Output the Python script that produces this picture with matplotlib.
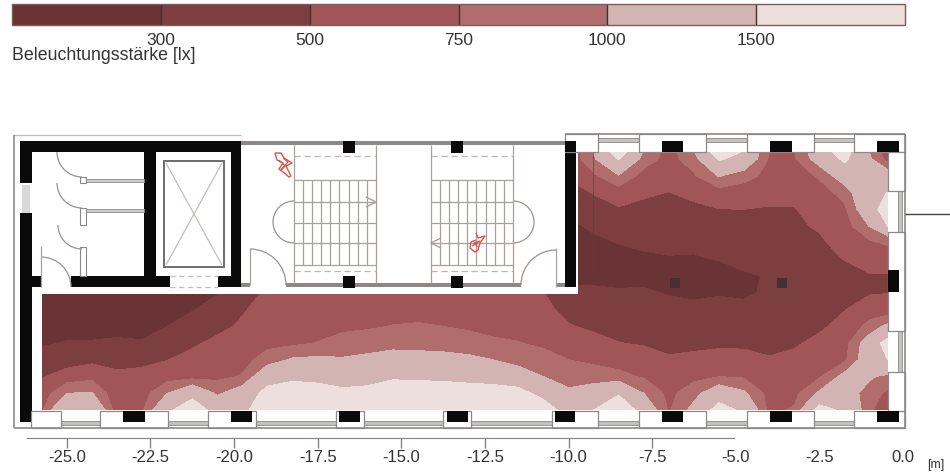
# floor plan with illuminance bands (lux)

import numpy as np
import matplotlib
matplotlib.use('Agg')
import matplotlib.pyplot as plt
from matplotlib.colors import ListedColormap, BoundaryNorm
from matplotlib.cm import ScalarMappable
from matplotlib.patches import Rectangle, Arc

plt.rcParams['font.family'] = ['Liberation Sans', 'DejaVu Sans']

levels = [0, 300, 500, 750, 1000, 1500, 2500]
level_ticks = [300, 500, 750, 1000, 1500]
band_colors = ['#6a3335', '#7c3e3f', '#a15556', '#b16c6c', '#d2b4b3', '#ecdfdc']
axis_ticks = [-25.0, -22.5, -20.0, -17.5, -15.0, -12.5, -10.0, -7.5, -5.0, -2.5, 0.0]

# measuring points in metres
x_m = np.arange(-25.75, 0, 0.75)
y_m = np.arange(0, 8.5, 0.5)

# lux per column of x_m, from the window wall (y=0) upwards
# columns left of -10 m only reach to y=3.5, the core is above them
lux_low = [
    [700, 600, 480, 370, 280, 220, 180, 150],
    [1500, 1000, 600, 400, 310, 240, 190, 160],
    [1450, 1020, 670, 445, 310, 250, 190, 160],
    [600, 560, 540, 440, 320, 260, 200, 170],
    [700, 640, 560, 450, 310, 260, 210, 170],
    [1400, 1000, 640, 495, 400, 300, 260, 200],
    [1800, 1350, 650, 560, 470, 380, 290, 230],
    [1300, 950, 690, 620, 545, 450, 368, 290],
    [1350, 1200, 770, 660, 590, 530, 480, 420],
    [1900, 1650, 1300, 860, 680, 620, 580, 530],
    [1950, 1750, 1400, 1040, 700, 640, 600, 550],
    [1950, 1700, 1370, 1060, 760, 650, 600, 550],
    [1950, 1600, 1300, 1030, 835, 700, 620, 560],
    [1950, 1650, 1320, 1070, 880, 720, 630, 560],
    [1950, 1750, 1440, 1130, 910, 760, 650, 570],
    [1950, 1750, 1420, 1120, 900, 780, 650, 570],
    [1950, 1720, 1410, 1100, 890, 750, 640, 560],
    [1950, 1700, 1370, 1060, 870, 710, 620, 550],
    [1950, 1700, 1320, 1000, 790, 680, 600, 540],
    [1950, 1650, 1230, 860, 760, 670, 600, 530],
    [1750, 1350, 1000, 860, 700, 620, 570, 505],
]
lux_full = [
    [1300, 1050, 900, 750, 635, 520, 420, 330, 270, 250, 260, 260, 330, 420, 520, 550, 550],
    [1500, 1150, 890, 690, 590, 450, 390, 330, 260, 240, 260, 330, 420, 510, 700, 950, 1100],
    [1900, 1450, 825, 640, 505, 440, 390, 315, 260, 240, 305, 380, 480, 610, 975, 1520, 2400],
    [1300, 1000, 720, 600, 480, 430, 370, 320, 260, 280, 320, 400, 450, 530, 650, 880, 1100],
    [720, 680, 640, 530, 430, 390, 350, 290, 240, 290, 330, 400, 460, 495, 590, 650, 680],
    [1100, 900, 680, 540, 460, 400, 340, 270, 240, 285, 330, 390, 450, 560, 720, 880, 1100],
    [1700, 1250, 750, 560, 470, 410, 340, 290, 230, 305, 360, 410, 495, 640, 1020, 1550, 2400],
    [1400, 1050, 720, 590, 450, 380, 340, 275, 280, 345, 385, 430, 500, 620, 840, 1300, 1700],
    [680, 660, 620, 520, 430, 370, 340, 325, 310, 370, 410, 450, 480, 590, 680, 720, 740],
    [780, 680, 620, 560, 470, 410, 370, 350, 370, 400, 430, 470, 490, 560, 640, 720, 740],
    [1700, 1050, 720, 630, 560, 460, 410, 380, 390, 430, 470, 520, 590, 650, 780, 1150, 1450],
    [1400, 1200, 1100, 700, 650, 580, 490, 430, 400, 505, 570, 630, 700, 830, 1200, 1580, 1900],
    [800, 850, 1050, 1250, 1200, 820, 640, 480, 480, 600, 700, 1010, 1300, 1400, 1250, 1050, 900],
    [450, 650, 850, 1600, 1900, 1200, 620, 500, 480, 580, 830, 1700, 1900, 1550, 1050, 500, 350],
]

columns = [c + [np.nan] * (len(y_m) - len(c)) for c in lux_low] + lux_full
lux = np.ma.masked_invalid(np.array(columns, dtype=float).T)

W, H = 950, 476
PX_PER_M = 33.45
X0, Y0 = 903, 410   # where x=0, y=0 sit in the image

cmap = ListedColormap(band_colors)
norm = BoundaryNorm(levels, cmap.N)

fig = plt.figure(figsize=(W / 100, H / 100), dpi=100)

# main axes in metres, over the whole figure
ax = fig.add_axes([0, 0, 1, 1])
ax.set_xlim(-X0 / PX_PER_M, (W - X0) / PX_PER_M)
ax.set_ylim((Y0 - H) / PX_PER_M, Y0 / PX_PER_M)
ax.patch.set_visible(False)

cs = ax.contourf(x_m, y_m, lux, levels=levels, cmap=cmap, norm=norm)
room = Rectangle((-25.75, 0), 25.3, 7.72, transform=ax.transData, fill=False, lw=0)
ax.add_patch(room)
cs.set_clip_path(room)

for s in ['top', 'left', 'right']:
    ax.spines[s].set_visible(False)
ax.spines['bottom'].set_position(('data', (Y0 - 438) / PX_PER_M))
ax.spines['bottom'].set_bounds(-26.2, -5.05)
ax.spines['bottom'].set_color('#8a8080')
ax.set_yticks([])
ax.set_xticks(axis_ticks)
ax.set_xticklabels(['%.1f' % t for t in axis_ticks])
ax.tick_params(axis='x', length=7, width=1, color='#8a8080', pad=1.5, labelsize=12, labelcolor='#333333')
for tick, t in zip(ax.xaxis.get_major_ticks(), axis_ticks):
    if t > -7:
        tick.tick1line.set_visible(False)

# legend
cax = fig.add_axes([12 / W, 1 - 25 / H, 893 / W, 21 / H])
cb = fig.colorbar(ScalarMappable(norm=norm, cmap=cmap), cax=cax, orientation='horizontal',
                  ticks=level_ticks, spacing='uniform', drawedges=True)
cb.ax.tick_params(length=0, pad=6, labelsize=12.5, labelcolor='#333333')
cb.ax.minorticks_off()
cb.dividers.set_color('#4a2c2c')
cb.dividers.set_linewidth(1)
cb.outline.set_edgecolor('#7a5c5c')
cb.outline.set_linewidth(1)
fig.text(12 / W, 1 - 56 / H, 'Beleuchtungsstärke [lx]', fontsize=12.8, color='#333333', va='center')
fig.text(936 / W, 1 - 465 / H, '[m]', fontsize=9, color='#333333', va='center', ha='center')

# the plan itself is drawn on top, in image pixels
pl = fig.add_axes([0, 0, 1, 1], zorder=5)
pl.set_xlim(0, W)
pl.set_ylim(H, 0)
pl.axis('off')
pl.patch.set_visible(False)

GRAY = '#8c8888'
LINE = '#a8a09c'
BLACK = '#0a0a0a'


def box(x0, y0, x1, y1, fc=BLACK, ec='none', lw=0):
    pl.add_patch(Rectangle((x0, y0), x1 - x0, y1 - y0, facecolor=fc, edgecolor=ec, linewidth=lw))


def line(xs, ys, c=LINE, lw=0.9, **kw):
    pl.plot(xs, ys, color=c, lw=lw, solid_capstyle='butt', **kw)


def door(cx, cy, r, a0, a1):
    pl.add_patch(Arc((cx, cy), 2 * r, 2 * r, theta1=a0, theta2=a1, color='#9a9290', lw=0.9))


# core background
box(14, 135, 578, 294, fc='white')
line([14, 241], [135, 135], c='#c0bdbb', lw=1.0)
line([14, 14], [428, 135], c=GRAY, lw=1.2)
line([14, 905], [428, 428], c=GRAY, lw=1.2)
line([905, 905], [134, 428], c=GRAY, lw=1.2)
line([565, 905], [134, 134], c=GRAY, lw=1.2)

# black walls
box(20, 141, 241, 152)
box(20, 141, 32, 183)
box(20, 213, 32, 422)
box(22, 185, 30, 213, fc='#d8d8d8')
box(144, 152, 156, 276)
box(231, 141, 241, 287)
box(32, 276, 42, 287)
box(71, 276, 170, 287)
box(218, 276, 241, 287)
box(565, 141, 576, 287)

# lift
box(164, 161, 224, 267, fc='none', ec='#6e6c6c', lw=1.4)
line([166, 222], [163, 265], c='#c4bcb8')
line([166, 222], [265, 163], c='#c4bcb8')
line([170, 218], [276, 276], ls=(0, (4, 3)), c='#c4bcb8')
line([170, 218], [287, 287], ls=(0, (4, 3)), c='#c4bcb8')

# wc partitions and doors
box(80, 177, 86, 183, fc='white', ec=GRAY, lw=0.8)
box(86, 179, 144, 182, fc='#cccccc', ec=GRAY, lw=0.6)
box(80, 208, 86, 225, fc='white', ec=GRAY, lw=0.8)
box(86, 209, 144, 212, fc='#cccccc', ec=GRAY, lw=0.6)
box(80, 247, 86, 276, fc='white', ec=GRAY, lw=0.8)
door(82, 152, 25, 90, 180)
door(82, 183, 25, 90, 180)
door(82, 225, 24, 90, 180)
line([41, 41], [246, 287])
door(41, 287, 30, 270, 360)
line([250, 250], [248, 285])
door(250, 285, 36, 270, 360)
line([556, 556], [248, 287])
door(556, 285, 35, 180, 270)

# corridor walls
box(241, 141, 565, 145, fc=GRAY)
box(241, 283, 250, 287, fc=GRAY)
box(286, 283, 521, 287, fc=GRAY)
box(556, 283, 565, 287, fc=GRAY)
for cx in [349, 457]:
    box(cx - 6, 141, cx + 6, 153)
    box(cx - 6, 276, cx + 6, 288)

# stairs
for x_a, x_b, treads in [(294, 376, np.arange(303, 370, 9.1)), (431, 513, np.arange(440, 506, 9.1))]:
    line([x_a, x_a], [145, 283], lw=0.9)
    line([x_b, x_b], [145, 283], lw=0.9)
    line([x_a, x_b], [156, 156], ls=(0, (5, 3)), c='#c0b4b0')
    line([x_a, x_b], [271, 271], ls=(0, (5, 3)), c='#c0b4b0')
    for yy in [180, 202, 223, 243, 265]:
        line([x_a, x_b], [yy, yy])
    for xx in treads:
        line([xx, xx], [180, 265], lw=0.9)
door(294, 222, 21, 90, 270)
door(513, 222, 21, 270, 90)
line([366, 376, 366], [197, 202, 207], lw=1)
line([441, 431, 441], [238, 243, 248], lw=1)

# plants in red
RED = '#d8534c'
line([275, 281, 284, 292, 286, 291, 289, 283, 279, 283, 277, 275], [153, 153, 158, 163, 166, 176, 177, 172, 169, 163, 160, 153], c=RED, lw=1)
line([279, 285, 281, 288, 283], [160, 166, 170, 162, 158], c=RED, lw=0.9)
line([476, 478, 485, 480, 478, 475, 470, 471, 476], [233, 238, 236, 243, 250, 252, 248, 242, 240], c=RED, lw=1)
line([472, 480, 474, 478], [246, 241, 243, 247], c=RED, lw=0.9)

# windows along the lower wall
for x0, x1 in [(61, 100), (168, 208), (256, 336), (364, 443), (471, 552), (598, 639), (706, 747), (814, 854)]:
    box(x0, 421, x1, 425, fc='#c4c2c0', ec=GRAY, lw=0.6)
for x0, x1 in [(31, 61), (100, 168), (208, 256), (336, 364), (443, 471), (552, 598), (639, 706), (747, 814), (854, 905)]:
    box(x0, 411, x1, 428, fc='white', ec=GRAY, lw=0.9)
for x0, x1 in [(123, 145), (231, 252), (339, 360), (447, 468), (555, 575), (662, 683), (770, 792), (877, 899)]:
    box(x0, 411, x1, 422)

# windows along the upper wall
for x0, x1 in [(598, 639), (706, 747), (814, 854)]:
    box(x0, 138, x1, 142, fc='#c4c2c0', ec=GRAY, lw=0.6)
for x0, x1 in [(565, 598), (639, 706), (747, 814), (854, 905)]:
    box(x0, 134, x1, 152, fc='white', ec=GRAY, lw=0.9)
for x0, x1 in [(662, 683), (770, 792), (877, 899)]:
    box(x0, 141, x1, 152)
box(565, 141, 576, 152)

# right wall
for y0, y1 in [(191, 232), (331, 372)]:
    box(898, y0, 902, y1, fc='#c4c2c0', ec=GRAY, lw=0.6)
for y0, y1 in [(152, 191), (232, 331), (372, 411)]:
    box(888, y0, 905, y1, fc='white', ec=GRAY, lw=0.9)
box(888, 270, 899, 292)
box(877, 141, 899, 152)
box(877, 411, 899, 422)

# inner columns and the dimension line on the right
box(670, 278, 680, 288, fc='#463031')
box(777, 278, 787, 288, fc='#463031')
line([593, 593], [152, 274], c='#6a3a3a', lw=0.5)
line([905, 950], [214, 214], c='#444444', lw=1)

fig.savefig('out.png', dpi=100)
